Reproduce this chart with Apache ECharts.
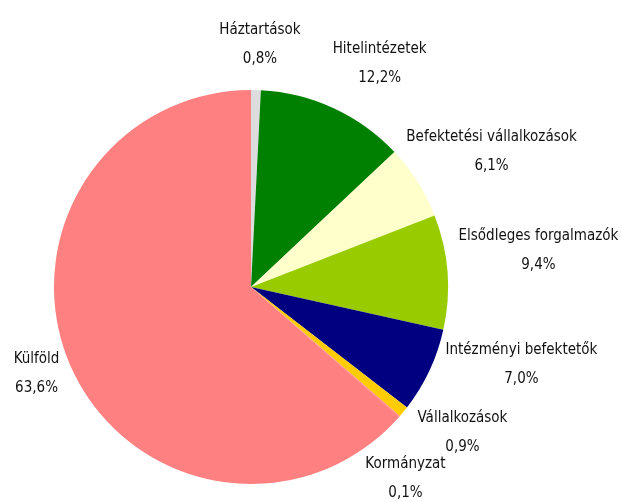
<!DOCTYPE html>
<html>
<head>
<meta charset="utf-8">
<script src="https://cdn.jsdelivr.net/npm/echarts@6/dist/echarts.min.js"></script>
<style>
  html, body { margin: 0; padding: 0; background: #fff; }
  #chart { width: 622px; height: 502px; }
</style>
</head>
<body>
<div id="chart"></div>
<script>
// szektorok felülről, az óramutató járásával megegyezően
var categories = ['Háztartások', 'Hitelintézetek', 'Befektetési vállalkozások', 'Elsődleges forgalmazók',
    'Intézményi befektetők', 'Vállalkozások', 'Kormányzat', 'Külföld'];
var shares = [0.8, 12.2, 6.1, 9.4, 7.0, 0.9, 0.1, 63.6];
var colors = ['#DDDDDD', '#008000', '#FFFFCC', '#99CC00', '#000080', '#FFCC00', '#FF8080', '#FF8080'];

// címkék eltolása a szelet ívének közepéhez képest (px)
var labelNudge = [[4, -45], [46, -45], [74, -30], [91, -21], [92, -6], [59, 21], [6, 62], [-35, 5]];

var cx = 251, cy = 287, radius = 197;

var chart = echarts.init(document.getElementById('chart'));

var total = shares.reduce(function(a, b) { return a + b; }, 0);
var midAngles = [];
var acc = 0;
shares.forEach(function(v) {
    midAngles.push((acc + v / 2) / total * Math.PI * 2);
    acc += v;
});

var seriesData = categories.map(function(name, i) {
    return { name: name, value: shares[i], itemStyle: { color: colors[i] } };
});

chart.setOption({
    animation: false,
    series: [{
        type: 'pie',
        center: [cx, cy],
        radius: radius,
        startAngle: 90,
        clockwise: true,
        data: seriesData,
        label: {
            show: true,
            position: 'outside',
            fontFamily: '"Liberation Sans Narrow", "DejaVu Sans Condensed", "Liberation Sans", sans-serif',
            fontSize: 15,
            lineHeight: 29,
            color: '#111',
            overflow: 'none',
            formatter: function(p) {
                return p.name + '\n' + p.value.toFixed(1).replace('.', ',') + '%';
            }
        },
        labelLine: { show: false },
        labelLayout: function(params) {
            var i = params.dataIndex;
            var a = midAngles[i];
            var ex = cx + radius * Math.sin(a);
            var ey = cy - radius * Math.cos(a);
            return {
                x: ex + labelNudge[i][0],
                y: ey + labelNudge[i][1],
                align: 'center',
                verticalAlign: 'middle',
                width: 300
            };
        }
    }]
});
</script>
</body>
</html>
